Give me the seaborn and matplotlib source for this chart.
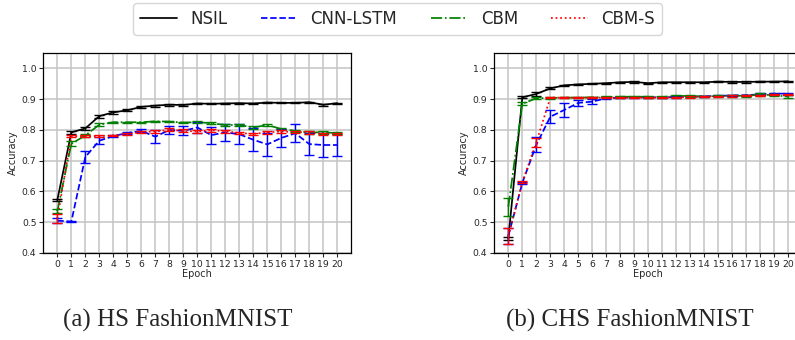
"""
Accuracy per epoch on HS / CHS FashionMNIST for NSIL and baselines
"""

# %% Imports
import numpy as np
import pandas as pd
import seaborn as sns
import matplotlib.pyplot as plt


# %% Data
epochs = list(range(21))
methods = ['NSIL', 'CNN-LSTM', 'CBM', 'CBM-S']

# HS FashionMNIST
nsil_hs = [0.572, 0.792, 0.805, 0.845, 0.857, 0.864, 0.875, 0.879, 0.882, 0.881, 0.886,
           0.885, 0.886, 0.887, 0.886, 0.889, 0.888, 0.888, 0.890, 0.882, 0.887]
nsil_hs_err = [0.003, 0.004, 0.004, 0.005, 0.005, 0.004, 0.003, 0.003, 0.003, 0.002, 0.002,
               0.002, 0.002, 0.002, 0.003, 0.002, 0.002, 0.002, 0.002, 0.003, 0.002]
cnn_hs = [0.505, 0.502, 0.712, 0.765, 0.780, 0.790, 0.797, 0.778, 0.800, 0.797, 0.808,
          0.783, 0.792, 0.786, 0.768, 0.753, 0.774, 0.789, 0.754, 0.751, 0.751]
cnn_hs_err = [0.009, 0.002, 0.019, 0.012, 0.003, 0.004, 0.005, 0.021, 0.012, 0.015, 0.019,
              0.028, 0.027, 0.032, 0.037, 0.038, 0.030, 0.029, 0.036, 0.038, 0.036]
cbm_hs = [0.536, 0.755, 0.782, 0.817, 0.825, 0.825, 0.825, 0.828, 0.827, 0.824, 0.825,
          0.822, 0.816, 0.816, 0.808, 0.816, 0.803, 0.797, 0.791, 0.793, 0.789]
cbm_hs_err = [0.007, 0.008, 0.004, 0.004, 0.002, 0.002, 0.002, 0.002, 0.002, 0.002, 0.003,
              0.004, 0.004, 0.004, 0.005, 0.004, 0.004, 0.004, 0.005, 0.005, 0.003]
cbms_hs = [0.512, 0.779, 0.780, 0.780, 0.782, 0.787, 0.793, 0.795, 0.800, 0.797, 0.795,
           0.799, 0.796, 0.790, 0.787, 0.792, 0.795, 0.793, 0.792, 0.787, 0.786]
cbms_hs_err = [0.015, 0.003, 0.002, 0.002, 0.002, 0.003, 0.004, 0.004, 0.005, 0.005, 0.005,
               0.005, 0.005, 0.004, 0.004, 0.004, 0.004, 0.004, 0.004, 0.004, 0.004]

# CHS FashionMNIST
nsil_chs = [0.447, 0.906, 0.917, 0.935, 0.945, 0.948, 0.950, 0.952, 0.955, 0.956, 0.952,
            0.955, 0.955, 0.955, 0.955, 0.957, 0.956, 0.956, 0.957, 0.957, 0.958]
nsil_chs_err = [0.005, 0.003, 0.006, 0.003, 0.002, 0.002, 0.002, 0.002, 0.002, 0.002, 0.002,
                0.002, 0.002, 0.002, 0.002, 0.002, 0.002, 0.002, 0.002, 0.002, 0.002]
cnn_chs = [0.455, 0.628, 0.752, 0.843, 0.865, 0.888, 0.892, 0.903, 0.905, 0.906, 0.906,
           0.906, 0.907, 0.908, 0.909, 0.911, 0.912, 0.913, 0.916, 0.918, 0.918]
cnn_chs_err = [0.025, 0.004, 0.025, 0.022, 0.022, 0.009, 0.008, 0.003, 0.002, 0.002, 0.002,
               0.002, 0.002, 0.002, 0.002, 0.002, 0.002, 0.002, 0.003, 0.003, 0.003]
cbm_chs = [0.550, 0.885, 0.903, 0.904, 0.905, 0.905, 0.906, 0.907, 0.908, 0.908, 0.908,
           0.907, 0.911, 0.910, 0.909, 0.910, 0.911, 0.911, 0.915, 0.913, 0.908]
cbm_chs_err = [0.030, 0.005, 0.003, 0.002, 0.002, 0.002, 0.002, 0.002, 0.003, 0.002, 0.003,
               0.002, 0.004, 0.003, 0.002, 0.003, 0.003, 0.003, 0.004, 0.004, 0.004]
cbms_chs = [0.455, 0.630, 0.760, 0.905, 0.905, 0.905, 0.905, 0.905, 0.905, 0.905, 0.905,
            0.905, 0.906, 0.907, 0.908, 0.909, 0.910, 0.911, 0.913, 0.914, 0.915]
cbms_chs_err = [0.025, 0.004, 0.014, 0.002, 0.002, 0.002, 0.002, 0.002, 0.002, 0.002, 0.002,
                0.002, 0.002, 0.002, 0.002, 0.002, 0.002, 0.002, 0.002, 0.002, 0.002]

panels = [
    ('(a) HS FashionMNIST', [nsil_hs, cnn_hs, cbm_hs, cbms_hs],
     [nsil_hs_err, cnn_hs_err, cbm_hs_err, cbms_hs_err]),
    ('(b) CHS FashionMNIST', [nsil_chs, cnn_chs, cbm_chs, cbms_chs],
     [nsil_chs_err, cnn_chs_err, cbm_chs_err, cbms_chs_err]),
]

# %% Styling
color_mapping = {'NSIL': 'black', 'CNN-LSTM': 'blue', 'CBM': 'green', 'CBM-S': 'red'}
dash_mapping = {'NSIL': '', 'CNN-LSTM': (3.7, 1.6), 'CBM': (6.4, 1.6, 1, 1.6), 'CBM-S': (1, 1.65)}

sns.set_style('ticks')
plt.rcParams['font.family'] = ['DejaVu Sans']

fig = plt.figure(figsize=(7.95, 3.4), dpi=100)
ax_positions = [[0.0545, 0.256, 0.3874, 0.588], [0.6218, 0.256, 0.3874, 0.588]]
caption_x = [0.224, 0.792]

# %% Plot
for i, (caption, values, errors) in enumerate(panels):
    ax = fig.add_axes(ax_positions[i])
    df = pd.DataFrame({
        'epoch': np.tile(epochs, len(methods)),
        'accuracy': np.concatenate(values),
        'err': np.concatenate(errors),
        'method': np.repeat(methods, len(epochs)),
    })
    sns.lineplot(data=df, x='epoch', y='accuracy', hue='method', style='method',
                 palette=color_mapping, dashes=dash_mapping, hue_order=methods,
                 style_order=methods, linewidth=1.25, ax=ax, legend=(i == 0))
    for m in methods:
        d = df[df['method'] == m]
        ax.errorbar(d['epoch'], d['accuracy'], yerr=d['err'], fmt='none',
                    ecolor=color_mapping[m], elinewidth=1.0, capsize=3.5, capthick=1.0)
    if i == 0:
        handles, labels = ax.get_legend_handles_labels()
        ax.get_legend().remove()

    ax.set_xlim(-1, 21)
    ax.set_ylim(0.4, 1.05)
    ax.set_xticks(epochs)
    ax.set_yticks([0.4, 0.5, 0.6, 0.7, 0.8, 0.9, 1.0])
    ax.set_yticklabels(['0.4', '0.5', '0.6', '0.7', '0.8', '0.9', '1.0'])
    ax.grid(True, color='#c4c4c4', linewidth=1.1)
    ax.set_axisbelow(True)
    ax.tick_params(labelsize=6.7, length=3, width=0.8, pad=2)
    ax.set_xlabel('Epoch', fontsize=7, labelpad=0)
    ax.set_ylabel('Accuracy', fontsize=7, labelpad=3)
    for s in ax.spines.values():
        s.set_color('black')
        s.set_linewidth(0.9)
    fig.text(caption_x[i], 0.058, caption, ha='center', va='center',
             fontsize=18, family=['Liberation Serif'])

fig.legend(handles, labels, loc='upper center', bbox_to_anchor=(0.5, 1.0), ncol=4,
           fontsize=12, handlelength=2.2, frameon=True, borderaxespad=0.2)

plt.savefig('out.png', dpi=100)
